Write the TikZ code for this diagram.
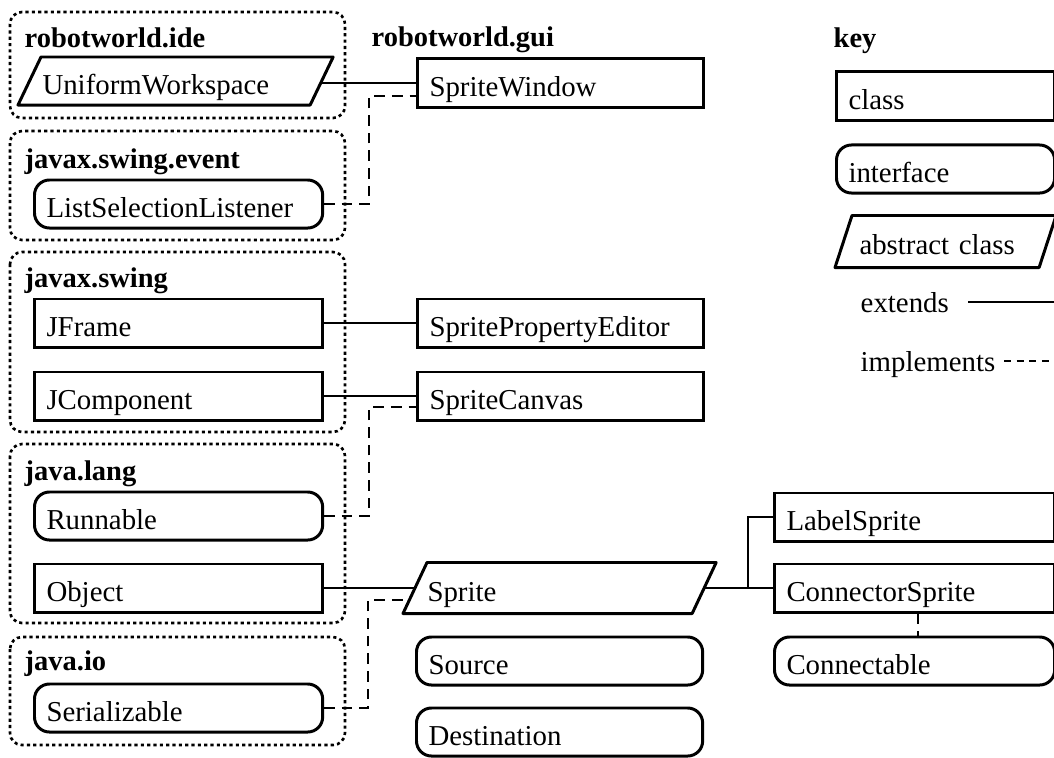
\documentclass[tikz,border=0pt]{standalone}
\usepackage{fontspec}
\setmainfont{Liberation Serif}
\usetikzlibrary{calc}
% outline of an abstract class: a parallelogram inside the node's rectangle
\newcommand\slantbox[2]{%
  \draw[outline] (#1.south west) -- ($(#1.north west)+(#2,0)$)
    -- (#1.north east) -- ($(#1.south east)+(-#2,0)$) -- cycle;}
\begin{document}
\begin{tikzpicture}[x=0.01cm,y=-0.01cm,
  every node/.style={font=\fontsize{8.2}{9.8}\selectfont},
  outline/.style={line width=0.85pt, line join=round},
  box/.style={line width=0.85pt, inner xsep=0.12cm, inner ysep=0pt,
    minimum height=0.48cm, text height=0.75em, text depth=0pt,
    anchor=west, align=left},
  cls/.style={box, draw},
  iface/.style={box, draw, rounded corners=0.15cm},
  abstr/.style={box, inner xsep=0.23cm},
  leftw/.style={text width=2.64cm},
  midw/.style={text width=2.62cm},
  rightw/.style={text width=2.56cm},
  keyw/.style={text width=1.94cm},
  pkg/.style={line width=0.75pt, dash pattern=on 0.9pt off 0.9pt,
    rounded corners=0.12cm},
  pkglabel/.style={font=\fontsize{8.1}{9.7}\selectfont\bfseries,
    anchor=base west, inner sep=0pt},
  keylabel/.style={anchor=base west, inner sep=0pt},
  ext/.style={line width=0.65pt},
  impl/.style={line width=0.65pt, dash pattern=on 3pt off 2pt},
]
\useasboundingbox (0,0) rectangle (1054,757);
\clip (0,0) rectangle (1054,757);

% package frames
\draw[pkg] (10,12) rectangle (345,118);
\draw[pkg] (10,131) rectangle (345,240);
\draw[pkg] (10,252) rectangle (345,432);
\draw[pkg] (10,444) rectangle (345,623);
\draw[pkg] (10,637) rectangle (345,745);

% package names
\node[pkglabel] (pide)   at (24,47)  {robotworld.ide};
\node[pkglabel] (pevent) at (24,168) {javax.swing.event};
\node[pkglabel] (pswing) at (24,287) {javax.swing};
\node[pkglabel] (plang)  at (24,480) {java.lang};
\node[pkglabel] (pio)    at (24,670) {java.io};
\node[pkglabel] (pgui)   at (371,46) {robotworld.gui};
\node[pkglabel] (pkey)   at (833,47) {key};

% library types
\node[abstr, text width=2.66cm, minimum height=0.45cm] (UW) at (18,81) {UniformWorkspace};
\slantbox{UW}{23}
\node[iface, leftw] (LSL) at (33,204) {ListSelectionListener};
\node[cls, leftw]   (JF)  at (33,323) {JFrame};
\node[cls, leftw]   (JC)  at (33,396) {JComponent};
\node[iface, leftw] (Run) at (33,516) {Runnable};
\node[cls, leftw]   (Obj) at (33,588) {Object};
\node[iface, leftw] (Ser) at (33,708) {Serializable};

% robotworld.gui types
\node[cls, midw] (SW)  at (416,83)  {SpriteWindow};
\node[cls, midw] (SPE) at (416,323) {SpritePropertyEditor};
\node[cls, midw] (SC)  at (416,396) {SpriteCanvas};
\node[abstr, text width=2.64cm] (Sp) at (403,588) {Sprite};
\slantbox{Sp}{24}
\node[iface, midw] (Src) at (415,661) {Source};
\node[iface, midw] (Dst) at (415,732) {Destination};

\node[cls, rightw]   (LS) at (773,517) {LabelSprite};
\node[cls, rightw]   (CS) at (773,588) {ConnectorSprite};
\node[iface, rightw] (Cn) at (773,661) {Connectable};

% key
\node[cls, keyw]   (Kc) at (835,96)  {class};
\node[iface, keyw] (Ki) at (835,169) {interface};
\node[abstr, text width=1.72cm, minimum height=0.49cm] (Ka) at (835,241.5) {abstract class};
\slantbox{Ka}{17}
\node[keylabel] (Kext) at (860,312) {extends};
\node[keylabel] (Kimp) at (860,371) {implements};
\coordinate (KextA) at (968,302);
\coordinate (KextB) at (1070,302);
\coordinate (KimpA) at (1004,361);
\coordinate (KimpB) at (1070,361);
\draw[ext] (KextA) -- (KextB);
\draw[impl, dash pattern=on 2pt off 1.6pt] (KimpA) -- (KimpB);

% extends / implements connectors
\coordinate (UWr) at ($(UW.east)+(-11.5,0)$);
\draw[ext] (UWr |- SW.west) -- (SW.west);
\draw[impl] (LSL.east) -| ($(SW.west)+(-47,13)$) -- ($(SW.west)+(0,13)$);
\draw[ext] (JF.east) -- (SPE.west);
\draw[ext] (JC.east) -- (SC.west);
\draw[impl] (Run.east) -| ($(SC.west)+(-47,11)$) -- ($(SC.west)+(0,11)$);
\draw[ext] (Obj.east) -- ($(Sp.west)+(12,0)$);
\draw[impl] (Ser.east) -| ($(Sp.west)+(-35,12)$) -- ($(Sp.west)+(6,12)$);
\coordinate (jn) at ($(CS.west)+(-25,0)$);
\draw[ext] ($(Sp.east)+(-12,0)$) -- (CS.west);
\draw[ext] (jn) |- (LS.west);
\draw[impl] ($(CS.south west)+(145,0)$) -- ($(Cn.north west)+(145,0)$);
\end{tikzpicture}
\end{document}
